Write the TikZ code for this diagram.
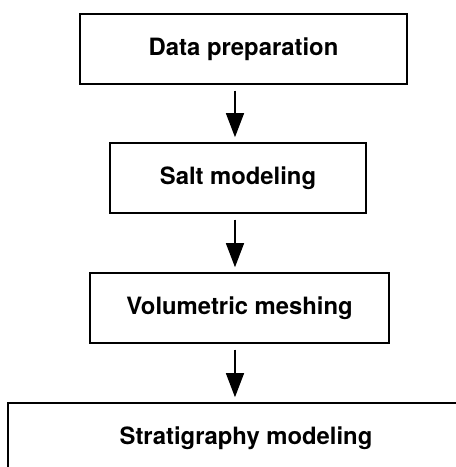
\documentclass[tikz,border=0pt]{standalone}
\usepackage{fontspec}
\setmainfont{TeX Gyre Heros}
\usetikzlibrary{arrows.meta}

\begin{document}
\begin{tikzpicture}[>={Triangle[length=0.8cm,width=0.6cm]},
        box/.style={rectangle, draw, line width=1.4pt, minimum height=2.33cm, inner sep=0pt,
            font=\fontsize{22.6}{27}\selectfont\bfseries},
        arrow/.style={->, line width=1.2pt, shorten <=0.2cm, shorten >=0.17cm}
    ]
        \useasboundingbox (0,0) rectangle (15.2,-15.567);
        \clip (0,0) rectangle (15.2,-15.567);

        % Steps
        \node (prep) [box, minimum width=10.9cm] at (8.117,-1.633) {Data preparation};
        \node (salt) [box, minimum width=8.53cm] at (7.933,-5.933) {Salt modeling};
        \node (mesh) [box, minimum width=9.97cm] at (7.983,-10.267) {Volumetric meshing};
        \node (strat) [box, minimum width=15.87cm] at (8.2,-14.6) {Stratigraphy modeling};

        % Flow
        \coordinate (spine) at (7.833,0);
        \draw[arrow] (prep.south -| spine) -- (salt.north -| spine);
        \draw[arrow] (salt.south -| spine) -- (mesh.north -| spine);
        \draw[arrow] (mesh.south -| spine) -- (strat.north -| spine);

    \end{tikzpicture}
\end{document}
